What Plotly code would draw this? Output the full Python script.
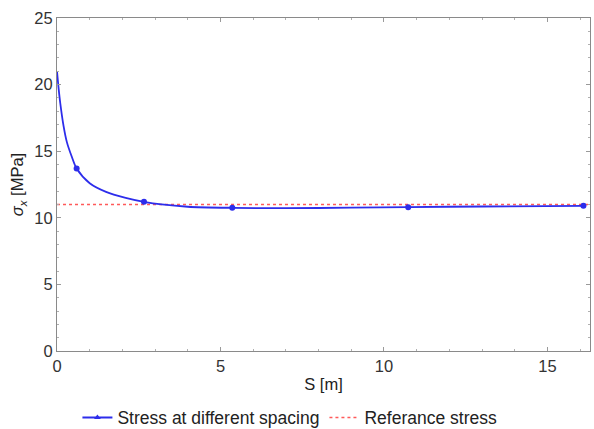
import plotly.graph_objects as go

# Fitted curve
curve_s = [0.0, 0.05, 0.1, 0.2, 0.3, 0.45, 0.6, 1.0, 1.5, 2.1, 2.66, 3.2, 4.0, 5.36, 7.0, 9.0, 10.74, 13.0, 16.1]
curve_sigma = [21.0, 19.7, 18.6, 16.9, 15.7, 14.6, 13.7, 12.6, 11.95, 11.5, 11.2, 11.0, 10.83, 10.75, 10.72, 10.76, 10.8, 10.85, 10.9]

# Computed points (markers)
point_s = [0.6, 2.66, 5.36, 10.74, 16.1]
point_sigma = [13.7, 11.2, 10.75, 10.8, 10.9]

# Reference stress
ref_s = [0.0, 16.3]
ref_sigma = [11.0, 11.0]

x_ticks = [0, 5, 10, 15]
y_ticks = [0, 5, 10, 15, 20, 25]

blue = "rgb(45,45,235)"
red = "rgb(255,90,90)"
font = "Liberation Sans, Arial, sans-serif"
fs = 16.5

fig = go.Figure()
fig.add_trace(go.Scatter(x=ref_s, y=ref_sigma, mode="lines", name="Referance stress",
                         line=dict(color=red, width=1.5, dash="dot"), showlegend=False))
fig.add_trace(go.Scatter(x=curve_s, y=curve_sigma, mode="lines", line_shape="spline",
                         line=dict(color=blue, width=1.8, smoothing=0.8), showlegend=False))
fig.add_trace(go.Scatter(x=point_s, y=point_sigma, mode="markers",
                         marker=dict(color=blue, size=6), showlegend=False))
# legend entries
fig.add_trace(go.Scatter(x=[None], y=[None], mode="lines+markers", name="Stress at different spacing",
                         line=dict(color=blue, width=1.8), marker=dict(color=blue, size=6, symbol="triangle-up")))
fig.add_trace(go.Scatter(x=[None], y=[None], mode="lines", name="Referance stress",
                         line=dict(color=red, width=1.5, dash="dot")))

axis_common = dict(showgrid=False, zeroline=False, showline=True, linecolor="#8a8a8a", linewidth=1,
                   mirror="ticks", ticks="inside", ticklen=4, tickcolor="#9a9a9a",
                   tickfont=dict(family=font, size=fs, color="#333333"))

fig.update_xaxes(range=[0, 16.3], tickvals=x_ticks,
                 minor=dict(ticks="inside", dtick=1, ticklen=2, tickcolor="#b0b0b0"),
                 title=dict(text="S [m]", font=dict(family=font, size=fs, color="#222222"), standoff=4),
                 **axis_common)
fig.update_yaxes(range=[0, 25], tickvals=y_ticks,
                 minor=dict(ticks="inside", dtick=1, ticklen=2, tickcolor="#b0b0b0"),
                 title=dict(text="<i>σ</i><sub><i>x</i></sub> [MPa]", font=dict(family=font, size=fs, color="#222222"), standoff=6),
                 **axis_common)

fig.update_layout(
    width=594, height=429,
    margin=dict(l=57, r=4, t=18, b=78, autoexpand=False),
    paper_bgcolor="white", plot_bgcolor="white",
    font=dict(family=font, size=fs, color="#222222"),
    legend=dict(orientation="h", x=0.437, xanchor="center", y=-0.2, yanchor="middle",
                font=dict(family=font, size=17.5, color="#222222"), itemwidth=30),
)

fig.write_html("out.html")
